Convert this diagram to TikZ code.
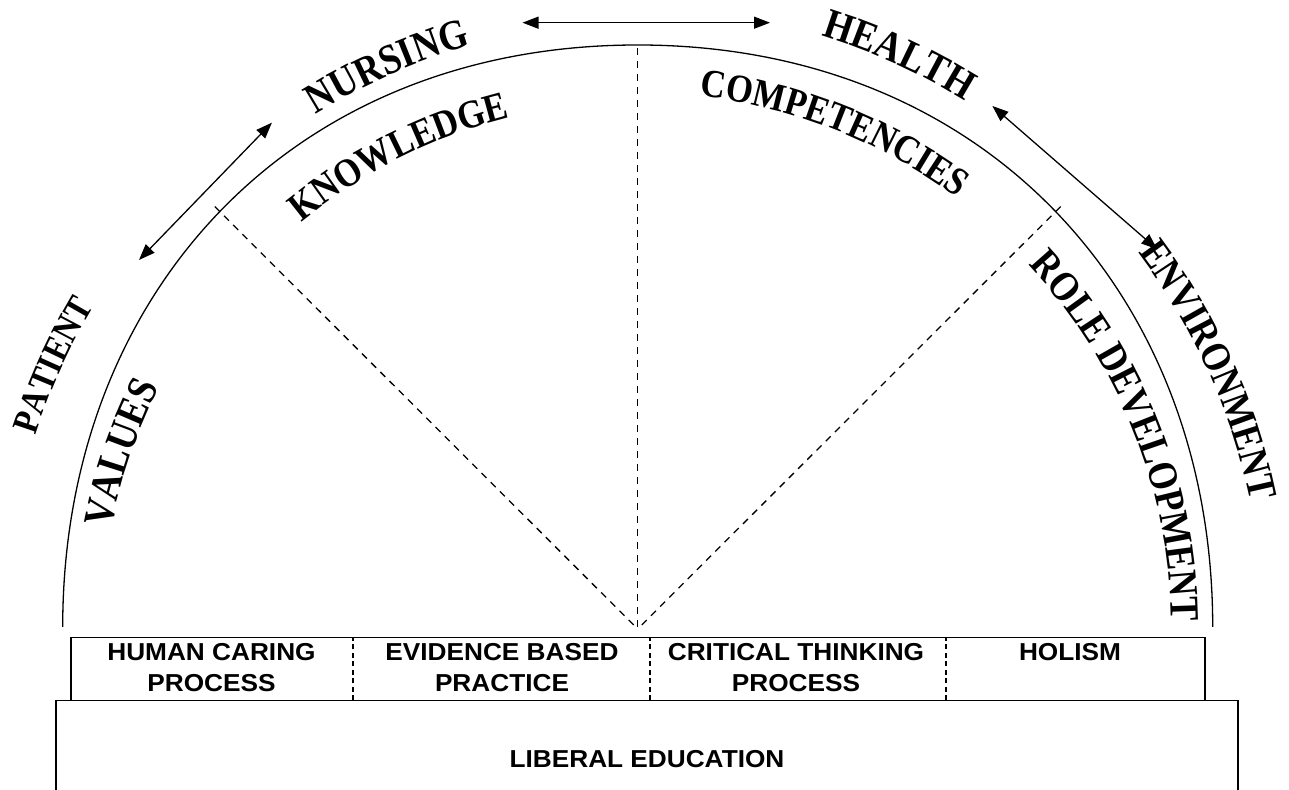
\documentclass[tikz,border=0pt]{standalone}
\usepackage{fontspec}
\setmainfont{Liberation Serif}
\newfontfamily\lblfont{Liberation Serif}[FakeStretch=0.87]
\newfontfamily\boxfont{Liberation Sans}[FakeStretch=1.07]
\usetikzlibrary{arrows.meta,calc,decorations.text}
\newcommand\lblsize[1]{\lblfont\fontsize{#1}{#1}\selectfont\bfseries}
\tikzset{
 arcline/.style={line width=1.3pt},
 ray/.style={line width=1.3pt, dash pattern=on 7pt off 6pt},
 divider/.style={line width=2pt, dash pattern=on 5pt off 3.5pt},
 boxline/.style={line width=1.6pt},
 dblarrow/.style={line width=1.3pt, {Triangle[length=16pt,width=12pt]}-{Triangle[length=16pt,width=12pt]}},
 boxtext/.style={font=\boxfont\bfseries\fontsize{24.5}{31}\selectfont, align=center, anchor=north, inner sep=0pt},
}
\newcommand\arclabel[5]{%
 \path[decorate,decoration={text along path,text align=center,text={|\lblsize{#2}|#1}}]
  ($(C)+({#3+#5}:#4)$) arc[start angle={#3+#5},end angle={#3-#5},radius=#4];}
\begin{document}
\begin{tikzpicture}[x=1pt,y=1pt]
\useasboundingbox (0,0) rectangle (1289,789);
\coordinate (C) at (637.7,160);
\coordinate (AL) at (62.7,162);
\coordinate (AT) at (637.7,744);
\coordinate (AR) at (1212.7,162);
\draw[arcline] (AL) .. controls (62.7,493.7) and (289.8,744) .. (AT) .. controls (985.6,744) and (1212.7,493.7) .. (AR);
% rays
\coordinate (TL) at (219.8,577.4);
\coordinate (TR) at (1055.6,577.4);
\coordinate (TT) at (637.7,741);
\draw[ray] ($(C)!1.012!(TL)$) -- (C);
\draw[ray] ($(C)!1.012!(TR)$) -- (C);
\draw[ray] (TT) -- (C);
% arrows
\coordinate (T1) at (522.5,766.3); \coordinate (T2) at (770,766.3);
\coordinate (L1) at (139,529); \coordinate (L2) at (271.9,666.3);
\coordinate (R1) at (992.4,683); \coordinate (R2) at (1157.2,539.7);
\draw[dblarrow] (T1) -- (T2);
\draw[dblarrow] (L1) -- (L2);
\draw[dblarrow] (R1) -- (R2);
% curved labels
\arclabel{NURSING}{42.5}{114}{607}{30}
\arclabel{HEALTH}{42.5}{65.5}{621}{30}
\arclabel{KNOWLEDGE}{40}{116.8}{527.5}{30}
\arclabel{COMPETENCIES}{39.7}{68.4}{536.6}{35}
\arclabel{PATIENT}{36.8}{155.7}{632.5}{20}
\arclabel{VALUES}{42.5}{161.2}{536}{20}
\arclabel{ROLE DEVELOPMENT}{41.4}{21.9}{534}{35}
\arclabel{ENVIRONMENT}{41}{24.35}{626}{25}
% boxes
\draw[boxline] (71,88.5) rectangle (1205,151.5);
\draw[boxline] (55.7,-20) rectangle (1237.7,88.5);
\draw[divider] (352.7,88.5) -- (352.7,151.5);
\draw[divider] (650,88.5) -- (650,151.5);
\draw[divider] (945.7,88.5) -- (945.7,151.5);
\node[boxtext] (hcp) at (211.5,146) {HUMAN CARING\\PROCESS};
\node[boxtext] (ebp) at (502,146) {EVIDENCE BASED\\PRACTICE};
\node[boxtext] (ctp) at (796,146) {CRITICAL THINKING\\PROCESS};
\node[boxtext] (hol) at (1070,146) {HOLISM};
\node[boxtext, anchor=base] (lib) at (647,21) {LIBERAL EDUCATION};
\end{tikzpicture}
\end{document}
